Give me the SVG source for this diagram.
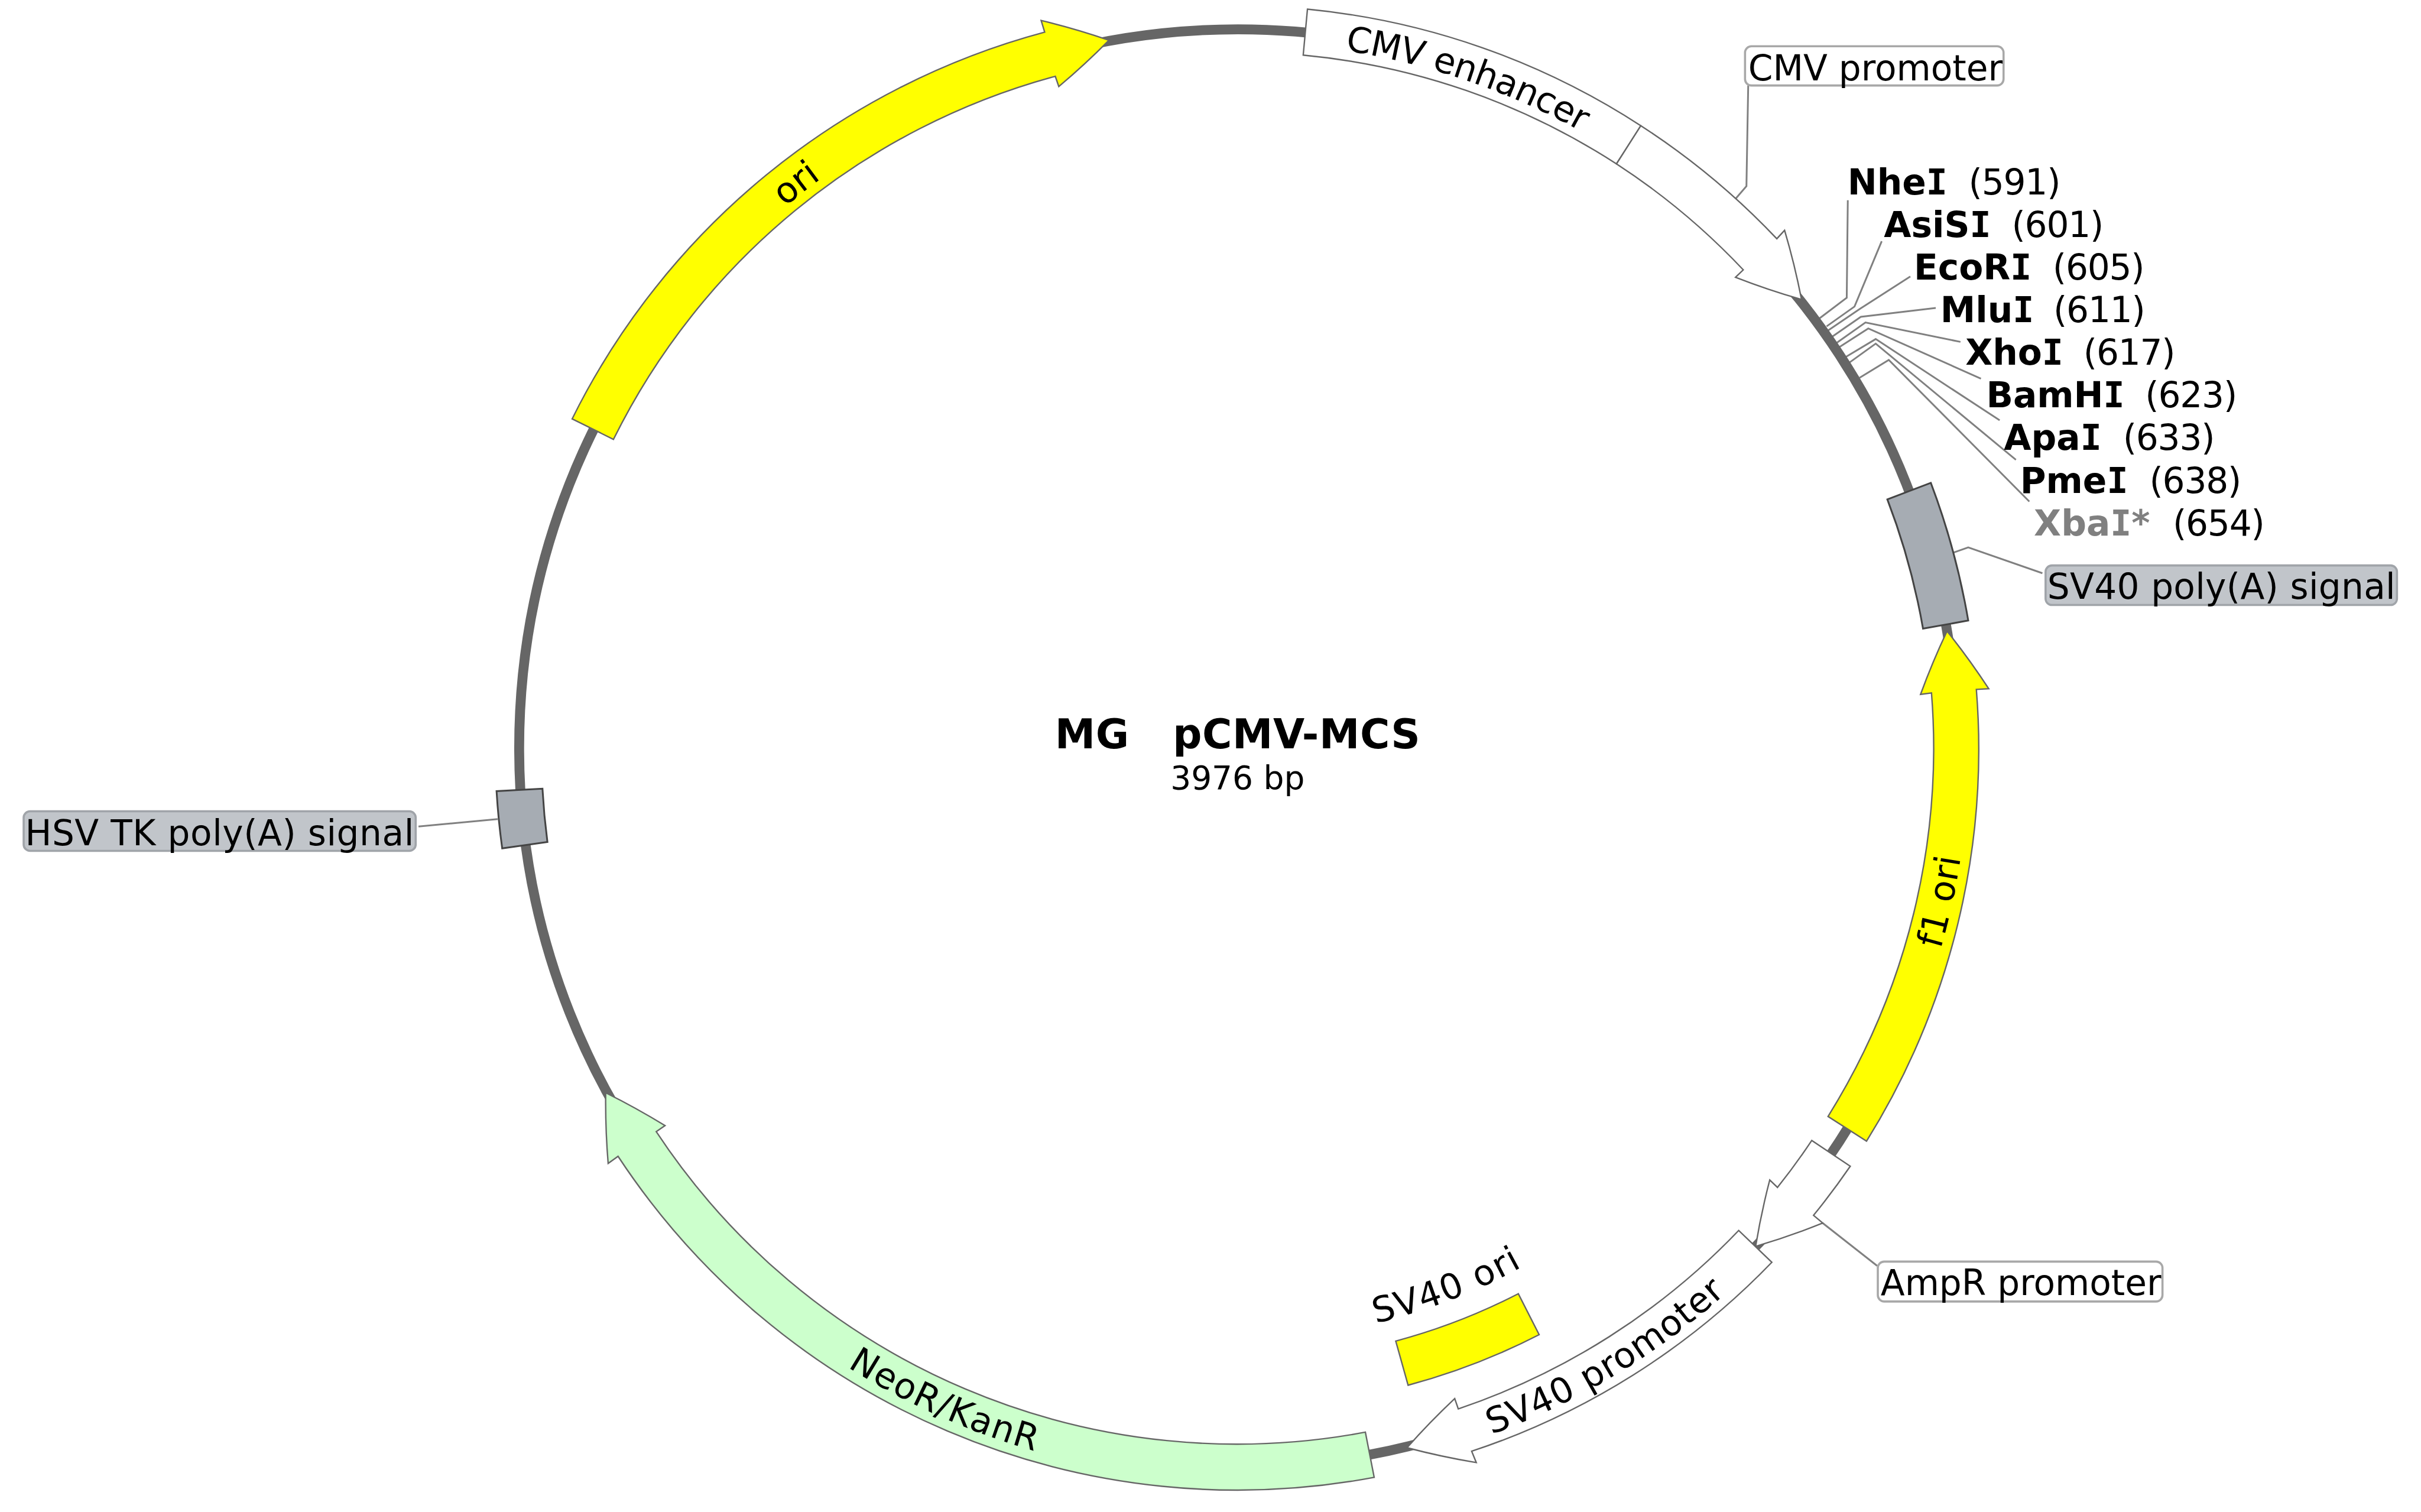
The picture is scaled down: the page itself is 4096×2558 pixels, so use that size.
<svg xmlns="http://www.w3.org/2000/svg" width="4096" height="2558" viewBox="0 0 4096 2558">
<style>
text{font-family:"DejaVu Sans","Liberation Sans",sans-serif;font-size:100px;fill:#000}
.f{stroke:#666;stroke-width:4;stroke-linejoin:miter}
.w{fill:#fff}.y{fill:#ff0}.g{fill:#cfc}
.p{fill:#a6acb3;stroke:#444;stroke-width:5}
.l{fill:none;stroke:#808080;stroke-width:5}
.bg{fill:#c1c5ca;stroke:#a0a4a9;stroke-width:6}
.bw{fill:#fff;stroke:#a8a8a8;stroke-width:6}
.b{font-weight:bold}
.n{letter-spacing:-2px}
.i{font-family:"DejaVu Sans Mono","Liberation Mono",monospace}
</style>
<defs>
<path id="tCMV" d="M3675.7 127.3A1998 1998 0 0 1 4590.3 440.4"/>
<path id="tOri" d="M1932.7 885.2A1998 1998 0 0 1 2695.5 291.3"/>
<path id="tF1" d="M5360.7 3035.2A2070 2070 0 0 0 5574.1 2056.6"/>
<path id="tSP" d="M4103.9 4101.6A2072 2072 0 0 0 4965 3588.2"/>
<path id="tSO" d="M3713.5 3780A1675 1675 0 0 0 4469.2 3487.6"/>
<path id="tNeo" d="M2226.5 3748.5A2072 2072 0 0 0 3141.6 4157.9"/>
</defs>
<rect width="4096" height="2558" fill="#fff"/>
<g transform="scale(0.59752)">
<g id="connectors">
<path class="l" d="M4950 242L4945 527L4915 562"/>
<path class="l" d="M5232 567L5229 843L5151 902"/>
<path class="l" d="M5328 683L5251 868L5172 924"/>
<path class="l" d="M5409 783L5267 874L5177 935"/>
<path class="l" d="M5481 872L5269 897L5188 953"/>
<path class="l" d="M5551 968L5282 913L5200 971"/>
<path class="l" d="M5609 1072L5290 930L5206 984"/>
<path class="l" d="M5662 1190L5311 960L5226 1011"/>
<path class="l" d="M5708 1302L5311 973L5236 1027"/>
<path class="l" d="M5746 1420L5348 1019L5265 1070"/>
<path class="l" d="M5530 1565L5573 1550L5783 1623"/>
<path class="l" d="M1185 2340L1409 2319"/>
<path class="l" d="M5161 3463L5315 3584"/>
</g>
<g id="backbone"><circle cx="3505" cy="2118" r="2035" fill="none" stroke="#666" stroke-width="28"/></g>
<g id="ori">
<path class="f y" d="M1620 1186A2100 2100 0 0 1 2958 91L2948 58A2100 2100 0 0 1 3140 114A2100 2100 0 0 1 2998 245L2988 216A1970 1970 0 0 0 1737 1244Z"/>
<text><textPath href="#tOri" startOffset="49.5%" text-anchor="middle">ori</textPath></text>
</g>
<g id="cmv-enhancer">
<path class="f w" d="M3702 26A2100 2100 0 0 1 4646 356L4577 464A1970 1970 0 0 0 3690 156Z"/>
<text letter-spacing="-1.5"><textPath href="#tCMV" startOffset="50%" text-anchor="middle">CMV enhancer</textPath></text>
</g>
<g id="cmv-promoter">
<path class="f w" d="M4646 356A2100 2100 0 0 1 5031 676L5053 652A2100 2100 0 0 1 5101 848A2100 2100 0 0 1 4914 785L4936 764A1970 1970 0 0 0 4577 464Z"/>
<rect class="bw" x="4941" y="131" width="732" height="111" rx="18"/>
<text x="4950" y="227">CMV promoter</text>
</g>
<g id="NheI"><text class="b" x="5231" y="551">Nhe<tspan class="i">I</tspan></text><text class="n" x="5574" y="551">(591)</text></g>
<g id="AsiSI"><text class="b" x="5334" y="671">AsiS<tspan class="i">I</tspan></text><text class="n" x="5696" y="671">(601)</text></g>
<g id="EcoRI"><text class="b" x="5419" y="792">EcoR<tspan class="i">I</tspan></text><text class="n" x="5812" y="792">(605)</text></g>
<g id="MluI"><text class="b" x="5494" y="912">Mlu<tspan class="i">I</tspan></text><text class="n" x="5814" y="912">(611)</text></g>
<g id="XhoI"><text class="b" x="5565" y="1033">Xho<tspan class="i">I</tspan></text><text class="n" x="5899" y="1033">(617)</text></g>
<g id="BamHI"><text class="b" x="5624" y="1153">BamH<tspan class="i">I</tspan></text><text class="n" x="6074" y="1153">(623)</text></g>
<g id="ApaI"><text class="b" x="5674" y="1274">Apa<tspan class="i">I</tspan></text><text class="n" x="6011" y="1274">(633)</text></g>
<g id="PmeI"><text class="b" x="5720" y="1396">Pme<tspan class="i">I</tspan></text><text class="n" x="6086" y="1396">(638)</text></g>
<g id="XbaI"><text class="b" x="5759" y="1516" style="fill:#808080">Xba<tspan class="i">I</tspan>*</text><text class="n" x="6152" y="1516">(654)</text></g>
<g id="sv40-polya">
<path class="p" d="M5467 1367A2100 2100 0 0 1 5573 1757L5445 1780A1970 1970 0 0 0 5344 1414Z"/>
<rect class="bg" x="5792" y="1601" width="995" height="112" rx="18"/>
<text x="5797" y="1696" letter-spacing="0.5">SV40 poly(A) signal</text>
</g>
<g id="f1-ori">
<path class="f y" d="M5285 3231A2100 2100 0 0 0 5596 1952L5631 1950A2100 2100 0 0 0 5513 1787A2100 2100 0 0 0 5438 1966L5469 1962A1970 1970 0 0 1 5176 3161Z"/>
<text letter-spacing="1"><textPath href="#tF1" startOffset="50%" text-anchor="middle">f1 ori</textPath></text>
</g>
<g id="ampr-promoter">
<path class="f w" d="M5239 3302A2100 2100 0 0 1 5135 3441L5161 3463A2100 2100 0 0 1 4971 3529A2100 2100 0 0 1 5011 3341L5033 3362A1970 1970 0 0 0 5130 3229Z"/>
<rect class="bw" x="5317" y="3572" width="806" height="113" rx="18"/>
<text x="5325" y="3666">AmpR promoter</text>
</g>
<g id="sv40-promoter">
<path class="f w" d="M5017 3574A2100 2100 0 0 1 4167 4109L4180 4141A2100 2100 0 0 1 3984 4099A2100 2100 0 0 1 4119 3960L4129 3989A1970 1970 0 0 0 4923 3484Z"/>
<text letter-spacing="2"><textPath href="#tSP" startOffset="51%" text-anchor="middle">SV40 promoter</textPath></text>
</g>
<g id="sv40-ori">
<path class="f y" d="M4358 3779A1867 1867 0 0 1 3987 3922L3952 3797A1737 1737 0 0 0 4299 3663Z"/>
<text letter-spacing="3.5"><textPath href="#tSO" startOffset="50%" text-anchor="middle">SV40 ori</textPath></text>
</g>
<g id="neor-kanr">
<path class="f g" d="M3891 4183A2100 2100 0 0 1 1750 3274L1722 3294A2100 2100 0 0 1 1715 3094A2100 2100 0 0 1 1883 3187L1858 3204A1970 1970 0 0 0 3866 4055Z"/>
<text letter-spacing="3"><textPath href="#tNeo" startOffset="49.8%" text-anchor="middle">NeoR/KanR</textPath></text>
</g>
<g id="hsv-tk-polya">
<path class="p" d="M1406 2240A2100 2100 0 0 0 1422 2402L1550 2384A1970 1970 0 0 1 1536 2233Z"/>
<rect class="bg" x="67" y="2297" width="1110" height="112" rx="18"/>
<text x="71" y="2393" letter-spacing="0.9">HSV TK poly(A) signal</text>
</g>
<g id="title">
<text class="b" x="2987" y="2118" xml:space="preserve" style="font-size:115px;white-space:pre;letter-spacing:1px">MG   pCMV-MCS</text>
<text x="3314" y="2235" style="font-size:92px">3976 bp</text>
</g>
</g>
</svg>
